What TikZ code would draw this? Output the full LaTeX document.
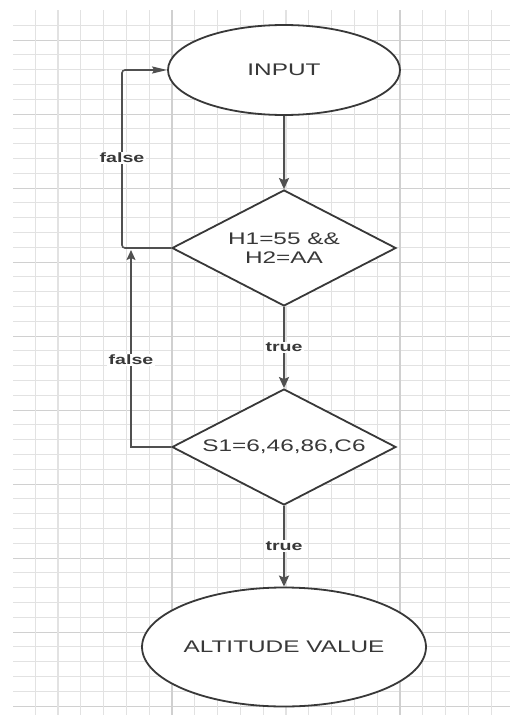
\documentclass[tikz,border=0pt]{standalone}
\usepackage{fontspec}
\newfontfamily\wf[FakeStretch=1.45]{Liberation Sans}
\usetikzlibrary{shapes.geometric,arrows.meta}
\definecolor{gridminor}{HTML}{E2E2E2}
\definecolor{gridmajor}{HTML}{D0D0D0}
\definecolor{shapeline}{HTML}{383838}
\definecolor{arrowline}{HTML}{505050}
\definecolor{txt}{HTML}{383838}
\tikzset{
  termbox/.style={ellipse,draw=shapeline,line width=1.8pt,fill=white,inner sep=0pt,
    minimum width=232,text=txt,font=\wf\fontsize{16.8}{19}\selectfont},
  decbox/.style={diamond,draw=shapeline,line width=1.8pt,fill=white,inner sep=0pt,aspect=1.93,
    minimum width=224,minimum height=116,align=center,text=txt,font=\wf\fontsize{16.8}{19}\selectfont},
  mainarrow/.style={draw=arrowline,line width=2.6pt,-{Stealth[length=11,width=10,inset=2]}},
  looparrow/.style={draw=arrowline,line width=1.6pt},
  lbl/.style={fill=white,inner sep=1.5pt,text=txt,font=\wf\bfseries\fontsize{13.5}{15}\selectfont},
}
\begin{document}
\begin{tikzpicture}[x=1pt,y=-1pt]
\fill[white] (0,0) rectangle (510,715);
\useasboundingbox (0,0) rectangle (510,715);
% grid
\foreach \k in {-1,...,45}{
  \pgfmathtruncatemacro{\m}{mod(\k+50,5)}
  \ifnum\m=0
    \draw[gridmajor,line width=0.9pt] (13,{40+14.8*\k}) -- (510,{40+14.8*\k});
  \else
    \draw[gridminor,line width=0.7pt] (13,{40+14.8*\k}) -- (510,{40+14.8*\k});
  \fi
}
\foreach \k in {-6,...,14}{
  \pgfmathtruncatemacro{\m}{mod(\k+60,10)}
  \ifnum\m=0
    \draw[gridmajor,line width=1.4pt] ({172+22.8*\k},10) -- ({172+22.8*\k},715);
  \else
    \draw[gridminor,line width=1.1pt] ({172+22.8*\k},10) -- ({172+22.8*\k},715);
  \fi
}
% nodes
\node[termbox,minimum height=90] (in) at (284,70) {INPUT};
\node[decbox] (d1) at (284,248) {H1=55 \&\&\\H2=AA};
\node[decbox] (d2) at (284,447) {S1=6,46,86,C6};
\node[termbox,minimum height=119] (out) at (284,647) {ALTITUDE VALUE};
% main arrows
\draw[mainarrow] (in.south) -- (d1.north);
\draw[mainarrow] (d1.south) -- node[lbl] (t1) {true} (d2.north);
\draw[mainarrow] (d2.south) -- node[lbl] (t2) {true} (out.north);
% false loops
\coordinate (c1) at (122,248);
\draw[looparrow,rounded corners=3,-{Stealth[length=15,width=7,inset=2]}] (d1.west) -- (c1) |- (in.west);
\coordinate (c2) at (131,447);
\coordinate (c3) at (131,250);
\draw[looparrow,-{Stealth[length=10,width=9,inset=2]}] (d2.west) -- (c2) -- (c3);
\node[lbl] (f1) at (122,158) {false};
\node[lbl] (f2) at (131,360) {false};
\end{tikzpicture}
\end{document}
